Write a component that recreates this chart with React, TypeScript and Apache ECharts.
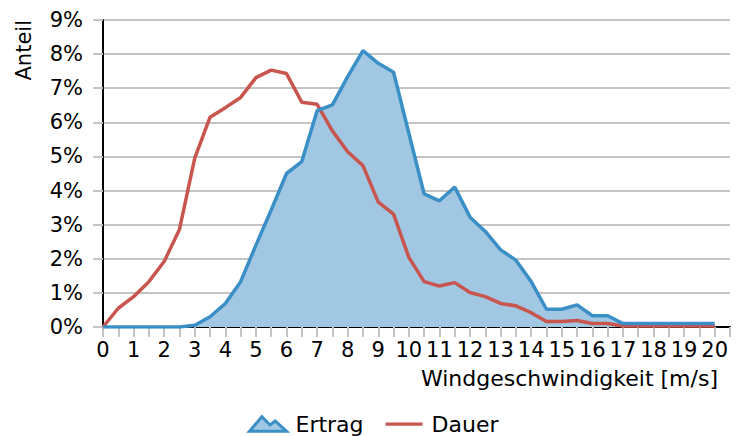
import React, { useEffect, useRef } from 'react';
import * as echarts from 'echarts';

const windSpeed = [
  0, 0.5, 1, 1.5, 2, 2.5, 3, 3.5, 4, 4.5, 5, 5.5, 6, 6.5, 7, 7.5, 8, 8.5, 9, 9.5,
  10, 10.5, 11, 11.5, 12, 12.5, 13, 13.5, 14, 14.5, 15, 15.5, 16, 16.5, 17, 17.5,
  18, 18.5, 19, 19.5, 20,
];

// percent
const ertrag = [
  0, 0, 0, 0, 0, 0, 0.05, 0.3, 0.69, 1.33, 2.4, 3.43, 4.5, 4.85, 6.34, 6.51, 7.34,
  8.1, 7.73, 7.47, 5.68, 3.9, 3.7, 4.1, 3.22, 2.8, 2.26, 1.96, 1.33, 0.52, 0.52,
  0.65, 0.33, 0.33, 0.1, 0.1, 0.1, 0.1, 0.1, 0.1, 0.1,
];

const dauer = [
  0, 0.55, 0.89, 1.33, 1.92, 2.86, 4.95, 6.15, 6.43, 6.73, 7.31, 7.53, 7.43, 6.59,
  6.53, 5.75, 5.14, 4.73, 3.66, 3.31, 2.04, 1.33, 1.2, 1.3, 1.01, 0.89, 0.69, 0.62,
  0.42, 0.16, 0.16, 0.19, 0.1, 0.1, 0.03, 0.03, 0.03, 0.03, 0.03, 0.03, 0.03,
];

const seriesNames = ['Ertrag', 'Dauer'];
const xAxisTitle = 'Windgeschwindigkeit [m/s]';
const yAxisTitle = 'Anteil';

const FONT = 'DejaVu Sans';
const BLUE = '#3a8fc7';
const BLUE_FILL = '#a1c7e2';
const RED = '#c9554f';
const GRID = '#c4c4c4';

export default function App() {
  const ref = useRef<HTMLDivElement>(null);

  useEffect(() => {
    if (!ref.current) return;
    const chart = echarts.init(ref.current, undefined, { renderer: 'svg' });
    const ertragData = windSpeed.map((x, i) => [x, ertrag[i]]);
    const dauerData = windSpeed.map((x, i) => [x, dauer[i]]);
    chart.setOption({
      animation: false,
      textStyle: { fontFamily: FONT },
      grid: { left: 103, right: 23, top: 20, bottom: 109, containLabel: false },
      xAxis: {
        type: 'value',
        min: 0,
        max: 20.5,
        interval: 0.5,
        axisLine: { show: true, onZero: true, lineStyle: { color: '#000', width: 2 } },
        axisTick: { show: true, length: 10, lineStyle: { color: GRID, width: 2 } },
        splitLine: { show: false },
        axisLabel: {
          fontSize: 21,
          color: '#000',
          fontFamily: FONT,
          margin: 12,
          showMaxLabel: true,
          formatter: (v: number) => (Math.abs(v - Math.round(v)) < 1e-6 && v <= 20 ? String(Math.round(v)) : ''),
        },
      },
      yAxis: {
        type: 'value',
        min: 0,
        max: 9,
        interval: 1,
        axisLine: { show: true, lineStyle: { color: '#000', width: 2 } },
        axisTick: { show: true, length: 10, lineStyle: { color: GRID, width: 2 } },
        splitLine: { show: true, lineStyle: { color: GRID, width: 2 } },
        axisLabel: {
          fontSize: 21,
          color: '#000',
          fontFamily: FONT,
          margin: 20,
          formatter: '{value}%',
        },
      },
      legend: {
        left: 243,
        top: 408,
        itemWidth: 37,
        itemHeight: 16,
        itemGap: 22,
        textStyle: { fontSize: 22, color: '#000', fontFamily: FONT, padding: [0, 0, 0, 4] },
        data: [
          {
            name: seriesNames[0],
            icon: 'path://M0,16L12,2L20,10L25,6L36,16Z',
            itemStyle: { color: BLUE_FILL, borderColor: BLUE, borderWidth: 3 },
          },
          {
            name: seriesNames[1],
            icon: 'path://M0,0h0.05v0.05zM0,6.5h37v3.2h-37zM37,16h-0.05v-0.05z',
            itemStyle: { color: RED, borderWidth: 0 },
          },
        ],
      },
      graphic: [
        {
          type: 'text',
          x: 718,
          y: 378,
          style: {
            text: xAxisTitle,
            font: `22px "${FONT}"`,
            fill: '#000',
            align: 'right',
            verticalAlign: 'middle',
          },
        },
        {
          type: 'text',
          x: 24,
          y: 20,
          rotation: Math.PI / 2,
          style: {
            text: yAxisTitle,
            font: `21px "${FONT}"`,
            fill: '#000',
            align: 'right',
            verticalAlign: 'middle',
          },
        },
      ],
      series: [
        {
          name: seriesNames[0],
          type: 'line',
          data: ertragData,
          showSymbol: false,
          symbol: 'none',
          z: 1,
          lineStyle: { width: 0, color: BLUE },
          itemStyle: { color: BLUE },
          areaStyle: { color: BLUE_FILL, opacity: 1 },
        },
        {
          name: seriesNames[1],
          type: 'line',
          data: dauerData,
          showSymbol: false,
          symbol: 'none',
          z: 2,
          lineStyle: { width: 3.5, color: RED },
          itemStyle: { color: RED },
        },
        {
          name: seriesNames[0],
          type: 'line',
          data: ertragData,
          showSymbol: false,
          symbol: 'none',
          z: 3,
          lineStyle: { width: 3.5, color: BLUE },
          itemStyle: { color: BLUE },
        },
      ],
    });
    return () => chart.dispose();
  }, []);

  return (
    <div
      ref={ref}
      style={{ position: 'fixed', left: 0, top: 0, width: 753, height: 436, background: '#fff' }}
    />
  );
}
